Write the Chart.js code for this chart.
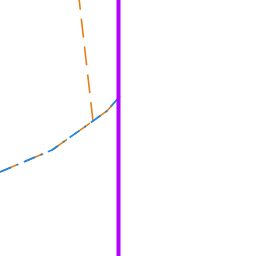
<!DOCTYPE html>
<html>
<head>
<meta charset="utf-8">
<script src="https://cdn.jsdelivr.net/npm/chart.js@4"></script>
<style>
  html, body { margin: 0; padding: 0; background: #fff; }
  #wrap { width: 256px; height: 256px; }
</style>
</head>
<body>
<div id="wrap"><canvas id="chart"></canvas></div>
<script>
// values (x right, y up, 0..256 window)
const curveX = [0, 52, 93, 107, 120];
const curveY = [84, 106, 135, 145, 160];

// orange branch that leaves the curve and heads out the top
const branchX = [93, 78.5];
const branchY = [135, 262];

// vertical marker
const markerX = [118.5, 118.5];
const markerY = [-10, 266];

function pts(xs, ys) {
    return xs.map((x, i) => ({ x: x, y: ys[i] }));
}

const orangePts = pts(curveX, curveY).concat([{ x: null, y: null }], pts(branchX, branchY));

new Chart(document.getElementById('chart').getContext('2d'), {
    type: 'scatter',
    data: {
        datasets: [
            {
                label: 'marker',
                data: pts(markerX, markerY),
                showLine: true,
                borderColor: '#b300ff',
                borderWidth: 4,
                pointRadius: 0,
                order: 0
            },
            {
                label: 'blue',
                data: pts(curveX, curveY),
                showLine: true,
                borderColor: '#1e88e5',
                borderWidth: 1.8,
                borderDash: [12, 6, 2, 6],
                pointRadius: 0,
                order: 1
            },
            {
                label: 'orange',
                data: orangePts,
                showLine: true,
                spanGaps: false,
                borderColor: '#e67e16',
                borderWidth: 1.6,
                borderDash: [19, 9],
                pointRadius: 0,
                order: 2
            }
        ]
    },
    options: {
        responsive: true,
        maintainAspectRatio: false,
        animation: false,
        layout: { padding: 0 },
        plugins: {
            legend: { display: false },
            tooltip: { enabled: false }
        },
        scales: {
            x: { type: 'linear', min: 0, max: 256, display: false },
            y: { type: 'linear', min: 0, max: 256, display: false }
        }
    }
});
</script>
</body>
</html>
